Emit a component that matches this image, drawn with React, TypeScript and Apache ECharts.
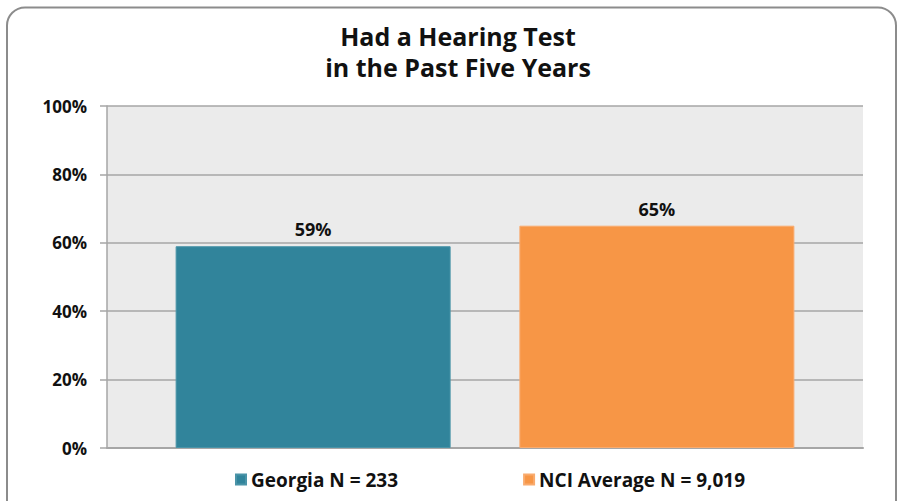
import React, { useEffect, useRef } from "react";
import * as echarts from "echarts";

const titleLines = ["Had a Hearing Test", "in the Past Five Years"];
const categories = ["Had a Hearing Test"];
const seriesNames = ["Georgia N = 233", "NCI Average N = 9,019"];
const georgiaValues = [0.59];
const nciValues = [0.65];
const seriesColors = ["#31849b", "#f79646"];
const yTicks = [0, 0.2, 0.4, 0.6, 0.8, 1.0];

const FONT = "'Open Sans', Lato, sans-serif";

export default function App() {
  const ref = useRef<HTMLDivElement>(null);
  useEffect(() => {
    if (!ref.current) return;
    const chart = echarts.init(ref.current, null, { renderer: "svg" });
    const labelStyle = {
      show: true,
      position: "top" as const,
      distance: 8,
      formatter: (p: any) => Math.round(p.value * 100) + "%",
      fontFamily: FONT,
      fontWeight: "bold" as const,
      fontSize: 18,
      color: "#111",
    };
    chart.setOption({
      animation: false,
      backgroundColor: "#ffffff",
      textStyle: { fontFamily: FONT },
      graphic: [
        {
          type: "rect",
          shape: { x: 7, y: 7.5, width: 889, height: 520, r: 18 },
          style: { fill: "none", stroke: "#8c8c8c", lineWidth: 2 },
          silent: true,
          z: 100,
        },
      ],
      title: {
        text: titleLines.join("\n"),
        left: 453,
        textAlign: "center",
        top: 15,
        textStyle: {
          fontFamily: FONT,
          fontWeight: "bold",
          fontSize: 25,
          lineHeight: 31,
          color: "#111",
        },
      },
      legend: {
        bottom: 7,
        left: 230,
        itemWidth: 10,
        itemHeight: 10,
        itemGap: 125,
        icon: "rect",
        textStyle: {
          fontFamily: FONT,
          fontWeight: "bold",
          fontSize: 19,
          color: "#111",
        },
        data: seriesNames,
      },
      grid: {
        left: 107,
        right: 37,
        top: 106,
        bottom: 53,
        show: true,
        backgroundColor: "#ebebeb",
        borderWidth: 0,
      },
      xAxis: {
        type: "category",
        data: categories,
        axisLabel: { show: false },
        axisTick: { show: false },
        axisLine: { show: true, lineStyle: { color: "#a6a6a6", width: 2 } },
      },
      yAxis: {
        type: "value",
        min: yTicks[0],
        max: yTicks[yTicks.length - 1],
        interval: 0.2,
        axisLine: { show: true, lineStyle: { color: "#a6a6a6", width: 1.5 } },
        axisTick: { show: true, length: 7, lineStyle: { color: "#a6a6a6", width: 1.5 } },
        splitLine: { show: true, lineStyle: { color: "#a6a6a6", width: 1.5 } },
        axisLabel: {
          margin: 20,
          formatter: (v: number) => Math.round(v * 100) + "%",
          fontFamily: FONT,
          fontWeight: "bold",
          fontSize: 17,
          color: "#111",
        },
      },
      series: [
        {
          name: seriesNames[0],
          type: "bar",
          data: georgiaValues,
          barWidth: 275,
          barGap: "25%",
          itemStyle: { color: seriesColors[0], borderColor: "#4a94a8", borderWidth: 1 },
          label: labelStyle,
        },
        {
          name: seriesNames[1],
          type: "bar",
          data: nciValues,
          barWidth: 275,
          barGap: "25%",
          itemStyle: { color: seriesColors[1], borderColor: "#f9ab6e", borderWidth: 1 },
          label: labelStyle,
        },
      ],
    });
    return () => chart.dispose();
  }, []);
  return (
    <div
      ref={ref}
      style={{ position: "absolute", left: 0, top: 0, width: 900, height: 501 }}
    />
  );
}
